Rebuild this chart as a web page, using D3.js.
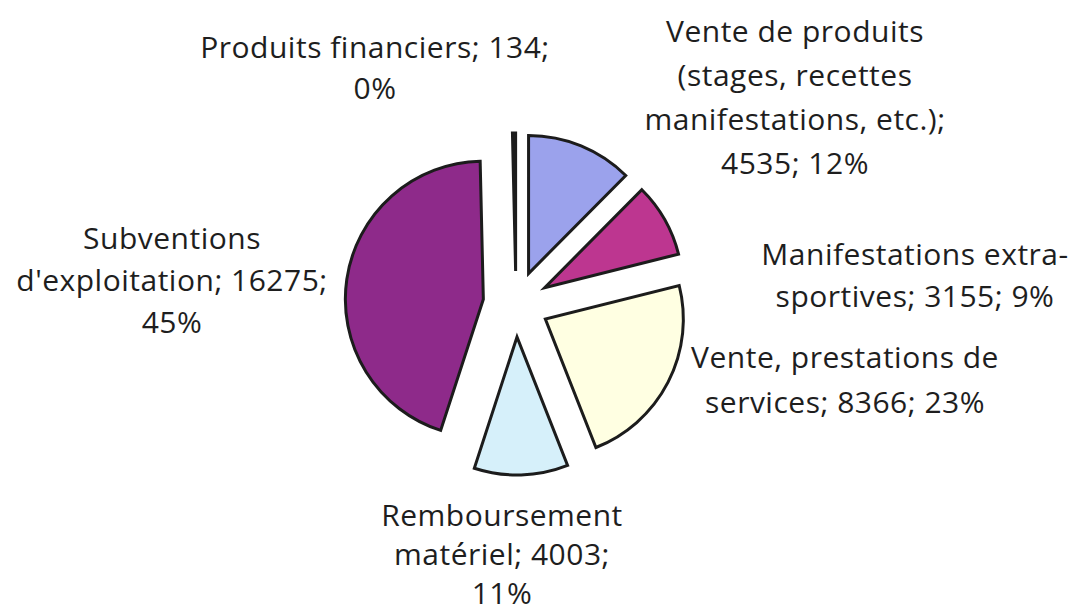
<!DOCTYPE html>
<html lang="fr">
  <head>
    <meta charset="UTF-8" />
    <title>Produits</title>
    <style>
      body { margin: 0; background: #fff; }
      text { font-family: "Comic Sans MS", "Open Sans", sans-serif; fill: #1e1e1e; }
    </style>
  </head>
  <body>
    <div id="chart"></div>
    <script src="https://cdn.jsdelivr.net/npm/d3@7/dist/d3.min.js"></script>
    <script>
      // data, clockwise from 12 o'clock
      var categories = [
        "Vente de produits (stages, recettes manifestations, etc.)",
        "Manifestations extra-sportives",
        "Vente, prestations de services",
        "Remboursement matériel",
        "Subventions d'exploitation",
        "Produits financiers"
      ];
      var values = [4535, 3155, 8366, 4003, 16275, 134];
      var percents = ["12%", "9%", "23%", "11%", "45%", "0%"];
      // label text as broken in the picture
      var labelLines = [
        ["Vente de produits", "(stages, recettes", "manifestations, etc.);", "4535; 12%"],
        ["Manifestations extra-", "sportives; 3155; 9%"],
        ["Vente, prestations de", "services; 8366; 23%"],
        ["Remboursement", "matériel; 4003;", "11%"],
        ["Subventions", "d'exploitation; 16275;", "45%"],
        ["Produits financiers; 134;", "0%"]
      ];
      var colors = ["#9ba2ec", "#bd3690", "#ffffe2", "#d6f0fa", "#8e2a8a", "#333"];

      // layout
      var width = 1077, height = 615;
      var cx = 516, cy = 304, radius = 138, explode = 33;
      var fontSize = 30;
      // label block centres (first line), set by hand like Excel's best fit
      var labelAt = [[795, 31], [915, 254], [845, 357], [502, 515], [172, 238], [375, 47]];
      var labelStep = [44, 42, 45, 39, 42, 41];

      var svg = d3.select("#chart").append("svg")
        .attr("width", width).attr("height", height);

      var pie = d3.pie().sort(null).value(function(d) { return d; });
      var arc = d3.arc().innerRadius(0).outerRadius(radius);
      var arcs = pie(values);

      var g = svg.append("g").attr("transform", "translate(" + cx + "," + cy + ")");

      g.selectAll("path.slice")
        .data(arcs)
        .enter()
        .append("path")
        .attr("class", "slice")
        .attr("d", arc)
        .attr("transform", function(d) {
          var a = (d.startAngle + d.endAngle) / 2;
          return "translate(" + explode * Math.sin(a) + "," + -explode * Math.cos(a) + ")";
        })
        .style("fill", function(d, i) { return colors[i]; })
        .style("stroke", "#1c1c1c")
        .style("stroke-width", 3)
        .style("stroke-linejoin", "miter");

      // labels
      var lab = svg.selectAll("g.label")
        .data(labelLines)
        .enter()
        .append("g")
        .attr("class", "label")
        .attr("transform", function(d, i) { return "translate(" + labelAt[i][0] + "," + labelAt[i][1] + ")"; });

      lab.selectAll("text")
        .data(function(d, i) { return d.map(function(t) { return { t: t, step: labelStep[i] }; }); })
        .enter()
        .append("text")
        .attr("x", 0)
        .attr("y", function(d, j) { return j * d.step; })
        .attr("dy", "0.35em")
        .attr("text-anchor", "middle")
        .style("font-size", fontSize + "px")
        .style("letter-spacing", "0.5px")
        .text(function(d) { return d.t; });
    </script>
  </body>
</html>
